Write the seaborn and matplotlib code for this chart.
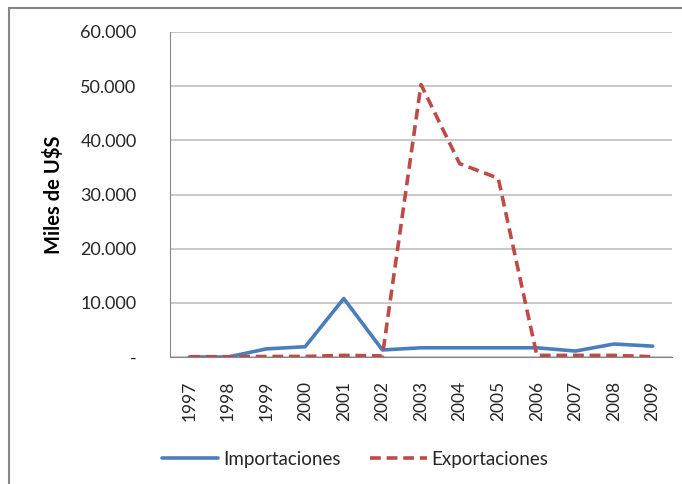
import numpy as np
import pandas as pd
import matplotlib.pyplot as plt
import matplotlib.ticker as mticker
from matplotlib.patches import Rectangle
from matplotlib.lines import Line2D
import seaborn as sns

sns.set_style("white")
plt.rcParams["font.family"] = ["Lato", "DejaVu Sans"]

# data (miles de U$S)
years = ["1997", "1998", "1999", "2000", "2001", "2002", "2003",
         "2004", "2005", "2006", "2007", "2008", "2009"]
importaciones = [0, 0, 1500, 1900, 10800, 1300, 1700, 1700, 1700, 1700, 1100, 2400, 2000]
exportaciones = [50, 50, 100, 100, 300, 200, 50300, 35700, 33000, 300, 300, 300, 50]
yticks = [0, 10000, 20000, 30000, 40000, 50000, 60000]

df = pd.DataFrame({
    "year": years * 2,
    "x": list(range(len(years))) * 2,
    "value": importaciones + exportaciones,
    "serie": ["Importaciones"] * len(years) + ["Exportaciones"] * len(years),
})

fig = plt.figure(figsize=(6.82, 4.84), dpi=100)
ax = fig.add_axes([170 / 682, 1 - 357 / 484, 502 / 682, 325 / 484])

palette = {"Importaciones": "#4A7EBB", "Exportaciones": "#BE4B48"}
sns.lineplot(data=df, x="x", y="value", hue="serie", style="serie",
             palette=palette, dashes={"Importaciones": "", "Exportaciones": (3, 1.6)},
             linewidth=2.6, ax=ax, legend=False)

ax.set_xlim(-0.5, len(years) - 0.5)
ax.set_ylim(0, 60000)
ax.set_yticks(yticks)
ax.yaxis.set_major_formatter(mticker.FuncFormatter(
    lambda v, p: "-" if v == 0 else f"{int(v):,}".replace(",", ".")))
ax.grid(axis="y", color="#BFBFBF", linewidth=1.2)
ax.set_axisbelow(True)

# category ticks between labels
ax.set_xticks(np.arange(len(years)))
ax.set_xticklabels(years, rotation=90, fontsize=12.5, color="#262626")
ax.set_xticks(np.arange(-0.5, len(years)), minor=True)
ax.tick_params(axis="x", which="major", length=0, pad=17)
ax.tick_params(axis="x", which="minor", length=6, color="#868686", width=1)
ax.tick_params(axis="y", length=7, color="#BFBFBF", width=1, labelsize=13,
               labelcolor="#262626", pad=17)

for side in ["top", "right"]:
    ax.spines[side].set_visible(False)
ax.spines["left"].set_color("#868686")
ax.spines["bottom"].set_color("#868686")
ax.set_xlabel("")
ax.set_ylabel("Miles de U$S", fontsize=14.5, fontweight="bold", color="black", labelpad=12)

# legend
handles = [Line2D([], [], color="#4A7EBB", lw=2.6),
           Line2D([], [], color="#BE4B48", lw=2.6, dashes=(3, 1.6))]
fig.legend(handles, ["Importaciones", "Exportaciones"], loc="center",
           bbox_to_anchor=(355 / 682, 1 - 459 / 484), ncol=2, frameon=False,
           fontsize=13.5, handlelength=3.0, handletextpad=0.25, columnspacing=1.6)

# outer frame
fig.patches.append(Rectangle((9 / 682, -0.1), 1.2, 1 - 8 / 484 + 0.1,
                             transform=fig.transFigure, fill=False,
                             edgecolor="#868686", linewidth=1.5))

fig.savefig("out.png", dpi=100)
